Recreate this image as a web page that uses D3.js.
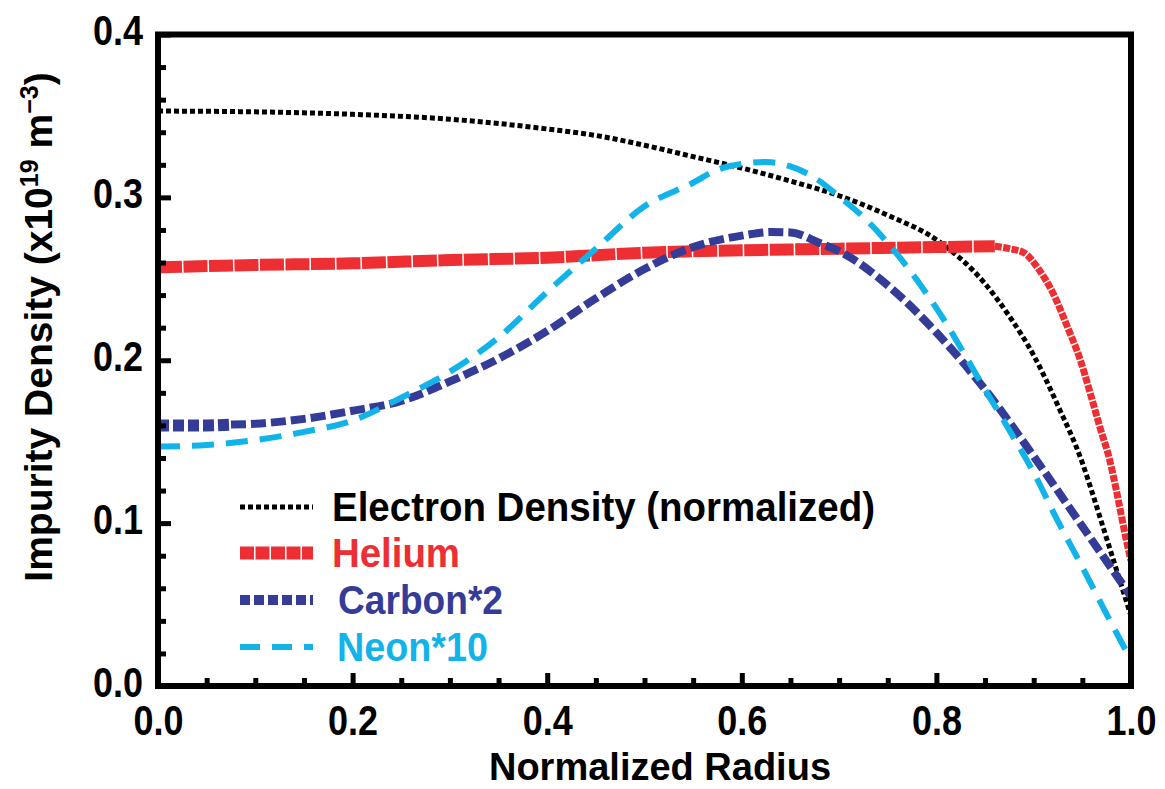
<!DOCTYPE html>
<html><head><meta charset="utf-8">
<script src="https://cdn.jsdelivr.net/npm/d3@7"></script>
<style>
body{margin:0;background:#fff}
svg{display:block}
text{font-family:"Liberation Sans",Arial,Helvetica,sans-serif;font-weight:bold}
</style>
</head><body>
<svg id="c" width="1165" height="789"></svg>
<script>
// ---- data ----
const xTicks = [0, 0.2, 0.4, 0.6, 0.8, 1.0];
const xTickLabels = ["0.0", "0.2", "0.4", "0.6", "0.8", "1.0"];
const xMinorTicks = [0.05,0.1,0.15,0.25,0.3,0.35,0.45,0.5,0.55,0.65,0.7,0.75,0.85,0.9,0.95];
const yTicks = [0, 0.1, 0.2, 0.3, 0.4];
const yTickLabels = ["0.0", "0.1", "0.2", "0.3", "0.4"];
const yMinorTicks = [0.02,0.04,0.06,0.08,0.12,0.14,0.16,0.18,0.22,0.24,0.26,0.28,0.32,0.34,0.36,0.38];

const electronR = [0, 0.1, 0.2, 0.3, 0.4, 0.45, 0.5, 0.55, 0.6, 0.65, 0.7, 0.75, 0.8, 0.85, 0.875, 0.9, 0.925, 0.95, 0.96, 0.97, 0.98, 0.99, 1.0];
const electronV = [0.353, 0.3525, 0.351, 0.348, 0.342, 0.338, 0.332, 0.325, 0.318, 0.310, 0.301, 0.289, 0.274, 0.247, 0.227, 0.203, 0.172, 0.137, 0.119, 0.100, 0.081, 0.062, 0.043];

const heliumR = [0, 0.1, 0.2, 0.3, 0.4, 0.5, 0.6, 0.7, 0.8, 0.86, 0.875, 0.89, 0.905, 0.92, 0.935, 0.948, 0.958, 0.968, 0.978, 0.985, 0.99, 0.995, 1.0];
const heliumV = [0.257, 0.2585, 0.2595, 0.2615, 0.263, 0.266, 0.2675, 0.2685, 0.2695, 0.270, 0.2685, 0.266, 0.256, 0.241, 0.220, 0.200, 0.180, 0.159, 0.139, 0.120, 0.105, 0.090, 0.077];

const carbonR = [0, 0.05, 0.075, 0.1, 0.15, 0.2, 0.25, 0.3, 0.35, 0.4, 0.45, 0.5, 0.55, 0.6, 0.63, 0.65, 0.68, 0.7, 0.75, 0.8, 0.85, 0.9, 0.95, 1.0];
const carbonV = [0.160, 0.160, 0.1605, 0.161, 0.164, 0.169, 0.175, 0.187, 0.201, 0.218, 0.238, 0.256, 0.2695, 0.2765, 0.2787, 0.2785, 0.272, 0.267, 0.246, 0.217, 0.182, 0.141, 0.098, 0.055];

const neonR = [0, 0.05, 0.1, 0.15, 0.2, 0.25, 0.3, 0.35, 0.4, 0.45, 0.5, 0.55, 0.575, 0.6, 0.625, 0.65, 0.675, 0.7, 0.73, 0.75, 0.8, 0.85, 0.875, 0.9, 0.925, 0.95, 0.975, 1.0];
const neonV = [0.147, 0.148, 0.151, 0.156, 0.163, 0.177, 0.193, 0.214, 0.242, 0.2685, 0.2945, 0.309, 0.317, 0.3205, 0.3217, 0.319, 0.312, 0.3005, 0.285, 0.272, 0.232, 0.182, 0.157, 0.131, 0.101, 0.073, 0.044, 0.016];

const seriesNames = ["Electron Density (normalized)", "Helium", "Carbon*2", "Neon*10"];
const seriesColors = ["#000000", "#ed2e32", "#343c97", "#12b3e8"];
const xTitle = "Normalized Radius";

// ---- chart ----
const svg = d3.select("#c");
const x = d3.scaleLinear().domain([0, 1]).range([158, 1131]);
const y = d3.scaleLinear().domain([0, 0.4]).range([686, 34.5]);

const pts = (R, V) => R.map((r, i) => [r, V[i]]);
const line = d3.line().x(d => x(d[0])).y(d => y(d[1])).curve(d3.curveMonotoneX);

const gLines = svg.append("g");
// Electron density
gLines.append("path").attr("d", line(pts(electronR, electronV)))
  .attr("fill", "none").attr("stroke", seriesColors[0]).attr("stroke-width", 5).attr("stroke-dasharray", "5,3");
// Helium
const he = pts(heliumR, heliumV);
gLines.append("path").attr("d", line(he.filter(d => d[0] <= 0.86)))
  .attr("fill", "none").attr("stroke", seriesColors[1]).attr("stroke-width", 12).attr("stroke-dasharray", "24,1.5");
gLines.append("path").attr("d", line(he.filter(d => d[0] >= 0.86)))
  .attr("fill", "none").attr("stroke", seriesColors[1]).attr("stroke-width", 7).attr("stroke-dasharray", "7,1.5");
// Carbon
const ca = pts(carbonR, carbonV);
gLines.append("path").attr("d", line(ca.filter(d => d[0] <= 0.075)))
  .attr("fill", "none").attr("stroke", seriesColors[2]).attr("stroke-width", 12).attr("stroke-dasharray", "11,4");
gLines.append("path").attr("d", line(ca.filter(d => d[0] >= 0.075)))
  .attr("fill", "none").attr("stroke", seriesColors[2]).attr("stroke-width", 8).attr("stroke-dasharray", "15,5");
// Neon
gLines.append("path").attr("d", line(pts(neonR, neonV)))
  .attr("fill", "none").attr("stroke", seriesColors[3]).attr("stroke-width", 6).attr("stroke-dasharray", "22,12");

// Axes ticks (inward)
const yMinor = svg.append("g").attr("transform", "translate(158,0)")
  .call(d3.axisLeft(y).tickValues(yMinorTicks).tickSize(-8).tickFormat(""));
const yMajor = svg.append("g").attr("transform", "translate(158,0)")
  .call(d3.axisLeft(y).tickValues(yTicks).tickSize(-13).tickPadding(15).tickFormat((d, i) => yTickLabels[i]));
const xMinor = svg.append("g").attr("transform", "translate(0,686)")
  .call(d3.axisBottom(x).tickValues(xMinorTicks).tickSize(-8).tickFormat(""));
const xMajor = svg.append("g").attr("transform", "translate(0,686)")
  .call(d3.axisBottom(x).tickValues(xTicks).tickSize(-13).tickPadding(19).tickFormat((d, i) => xTickLabels[i]));
[yMinor, yMajor, xMinor, xMajor].forEach(g => {
  g.select(".domain").remove();
  g.selectAll(".tick line").attr("stroke", "#000").attr("stroke-width", 5);
  g.selectAll(".tick text").attr("fill", "#000").attr("font-size", 42)
    .attr("textLength", 50).attr("lengthAdjust", "spacingAndGlyphs");
});
yMajor.selectAll(".tick text").attr("dy", "0.24em");

// Frame
svg.append("rect").attr("x", 158).attr("y", 34.5).attr("width", 1131 - 158).attr("height", 686 - 34.5)
  .attr("fill", "none").attr("stroke", "#000").attr("stroke-width", 6);

// Axis titles
svg.append("text").attr("x", 660).attr("y", 780).attr("text-anchor", "middle")
  .attr("font-size", 38).text(xTitle);
const yt = svg.append("text").attr("transform", "translate(52,327) rotate(-90)")
  .attr("text-anchor", "middle").attr("font-size", 39);
yt.append("tspan").text("Impurity Density (x10");
yt.append("tspan").attr("font-size", 25).attr("dy", -14).text("19");
yt.append("tspan").attr("dy", 14).text(" m");
yt.append("tspan").attr("font-size", 25).attr("dy", -14).text("\u22123");
yt.append("tspan").attr("dy", 14).text(")");

// Legend
const legY = [507, 553, 600, 647];
const legTextX = [332, 332, 338, 337];
const legTextLen = [543, 128, 165, 151];
const legStyles = [
  {w: 5, dash: "5,3"}, {w: 13, dash: "14,1.5"}, {w: 10, dash: "10,4"}, {w: 6, dash: "20,12"}
];
const leg = svg.append("g");
seriesNames.forEach((name, i) => {
  leg.append("line").attr("x1", 240).attr("x2", 313).attr("y1", legY[i]).attr("y2", legY[i])
    .attr("stroke", seriesColors[i]).attr("stroke-width", legStyles[i].w).attr("stroke-dasharray", legStyles[i].dash);
  leg.append("text").attr("x", legTextX[i]).attr("y", legY[i] + 14).attr("font-size", 41)
    .attr("textLength", legTextLen[i]).attr("lengthAdjust", "spacingAndGlyphs")
    .attr("fill", seriesColors[i]).text(name);
});
</script>
</body></html>
